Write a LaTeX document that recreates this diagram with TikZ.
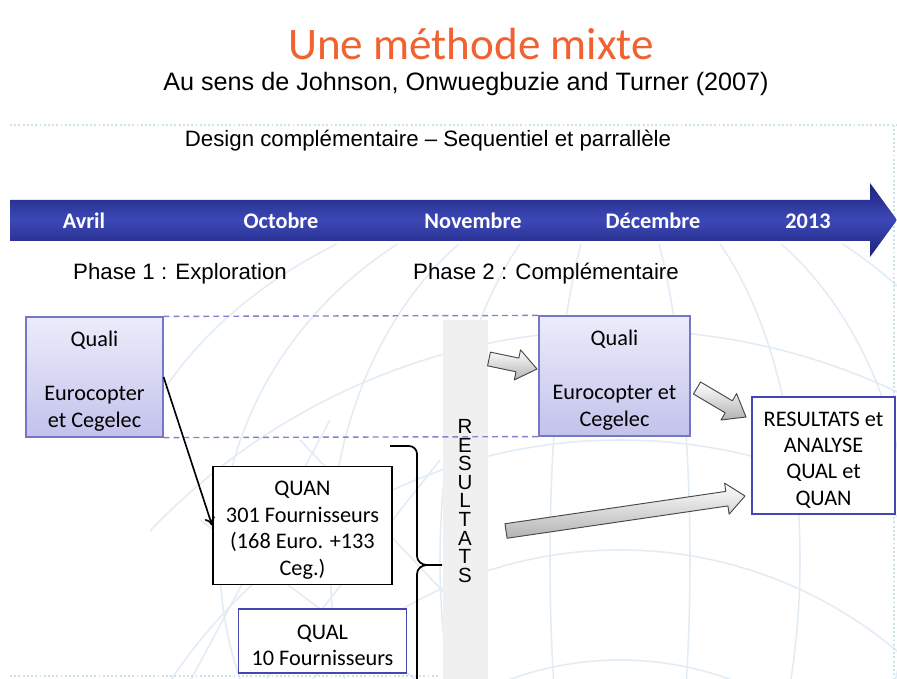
\documentclass[tikz,border=0pt]{standalone}
\usepackage{fontspec}
\setmainfont{Liberation Sans}
\newfontfamily\calibri{Carlito}
\usetikzlibrary{calc,arrows.meta}
\definecolor{titleorange}{RGB}{241,98,48}
\definecolor{navyband}{RGB}{28,34,122}
\definecolor{midband}{RGB}{60,72,182}
\definecolor{lavtop}{RGB}{236,236,251}
\definecolor{lavbot}{RGB}{194,194,236}
\definecolor{lavline}{RGB}{118,118,198}
\definecolor{dashblue}{RGB}{130,130,205}
\definecolor{boxblue}{RGB}{70,70,176}
\definecolor{globe}{RGB}{226,236,245}
\definecolor{bandgrey}{RGB}{240,240,240}
\definecolor{dotcyan}{RGB}{204,226,234}

\newcommand{\topgap}{\rule{0pt}{20pt}}

\tikzset{
 boxtext/.style={align=center, inner sep=0pt, font=\calibri\fontsize{19}{22.6}\selectfont},
 quali/.style={boxtext, draw=lavline, line width=1pt, top color=lavtop, bottom color=lavbot},
 plainbox/.style={boxtext, draw=black, fill=white, line width=1.5pt},
 bluebox/.style={boxtext, draw=boxblue, fill=white, line width=1.4pt},
 month/.style={text=white, font=\calibri\bfseries\fontsize{19}{20}\selectfont},
 phase/.style={font=\fontsize{19}{22}\selectfont},
 fatarrow/.style={draw=black!72, line width=0.8pt, line join=round, top color=white, bottom color=black!30},
}

\newcommand{\blockarrow}[5]{%
 \coordinate (hb) at ($(#2)!#5!(#1)$);
 \path[fatarrow] ($(#1)!#3!90:(#2)$) -- ($(hb)!#3!90:(#2)$) -- ($(hb)!#4!90:(#2)$) -- (#2)
  -- ($(hb)!#4!-90:(#2)$) -- ($(hb)!#3!-90:(#2)$) -- ($(#1)!#3!-90:(#2)$) -- cycle;
}

\begin{document}
\begin{tikzpicture}[x=0.03cm,y=-0.03cm]
\useasboundingbox (0,0) rectangle (897,679);
\fill[white] (0,0) rectangle (897,679);

\begin{scope}
\clip (150,245) rectangle (897,679);
\foreach \r in {70,180,290,400,510}
 \draw[globe, line width=1.3pt] (620,560) ellipse ({\r*0.03cm} and 11.4cm);
\foreach \r in {120,230,340,450}
 \draw[globe, line width=1.3pt] (620,980) circle ({\r*0.03cm+6cm});
\draw[globe, line width=1.3pt] (180,700) -- (330,420) (250,700) -- (440,460) (200,520) -- (430,690) (300,440) -- (470,620);
\end{scope}

\draw[dotcyan, dotted, line width=1.6pt] (10,125) -- (897,125);
\draw[dotcyan, dotted, line width=1.6pt] (10,676) -- (440,676);
\draw[dotcyan, dotted, line width=1.6pt] (894,125) -- (894,679);

\node[font=\calibri\fontsize{38.5}{42}\selectfont, text=titleorange] (title) at (471,44) {Une méthode mixte};
\node[font=\fontsize{21.5}{24}\selectfont] (subtitle) at (466,84) {Au sens de Johnson, Onwuegbuzie and Turner (2007)};
\node[font=\fontsize{19}{22}\selectfont] (design) at (428,141) {Design complémentaire – Sequentiel et parrallèle};

\shade[top color=navyband, bottom color=navyband, middle color=midband]
 (10,200) -- (870,200) -- (870,183) -- (897,220) -- (870,257) -- (870,241) -- (10,241) -- cycle;
\node[month] (avril) at (84,221) {Avril};
\node[month] (octobre) at (281,221) {Octobre};
\node[month] (novembre) at (473,221) {Novembre};
\node[month] (decembre) at (653,221) {Décembre};
\node[month] (an) at (808,221) {2013};

\node[phase] (ph1) at (180,274) {Phase 1 : Exploration};
\node[phase] (ph2) at (546,274) {Phase 2 : Complémentaire};

\fill[bandgrey] (443,320) rectangle (488,679);

\node[quali, minimum width=4.11cm, minimum height=3.6cm] (q1) at (94.5,377) {\topgap Quali\\[24pt]Eurocopter\\et Cegelec};
\node[quali, minimum width=4.53cm, minimum height=3.6cm] (q2) at (614.5,376) {\topgap Quali\\[24pt]Eurocopter et\\Cegelec};
\node[bluebox, minimum width=4.29cm, minimum height=3.51cm] (res) at (823.5,455.5) {\topgap RESULTATS et\\ANALYSE\\QUAL et\\QUAN};
\node[plainbox, minimum width=5.37cm, minimum height=3.54cm] (quan) at (302.5,525.5) {\topgap QUAN\\301 Fournisseurs\\(168 Euro. +133\\Ceg.)};
\node[bluebox, minimum width=5.04cm, minimum height=1.92cm] (qual) at (322.5,641) {\topgap QUAL\\10 Fournisseurs};

\draw[dashblue, dashed, dash pattern=on 5pt off 3.5pt, line width=1.2pt] (q1.north east) -- (q2.north west);
\draw[dashblue, dashed, dash pattern=on 5pt off 3.5pt, line width=1.2pt] (q1.south east) -- (q2.south west);

\node[font=\fontsize{17.5}{15.9}\selectfont, align=center, inner sep=0pt] (vres) at (465,501) {R\\E\\S\\U\\L\\T\\A\\T\\S};

\coordinate (bt) at (390,446);
\coordinate (bm) at (442,565);
\coordinate (bb) at (417,682);
\draw[line width=1.5pt] (bt) -- (409,446) to[out=0,in=90] (417,454) -- (417,556) to[out=-90,in=180] (427,565) -- (bm);
\draw[line width=1.5pt] (427,565) to[out=180,in=90] (417,574) -- (bb);

\draw[line width=1.4pt, -{To[length=7pt,width=9pt]}] (q1.east) -- (quan.west);

\coordinate (t1) at (489,359);
\coordinate (p1) at (537,369);
\coordinate (t2) at (697,388);
\coordinate (p2) at (746,417);
\coordinate (t3) at (506,531);
\coordinate (p3) at (745,496);
\blockarrow{t1}{p1}{0.21cm}{0.46cm}{0.6cm}
\blockarrow{t2}{p2}{0.21cm}{0.46cm}{0.6cm}
\blockarrow{t3}{p3}{0.22cm}{0.47cm}{0.55cm}
\end{tikzpicture}
\end{document}
